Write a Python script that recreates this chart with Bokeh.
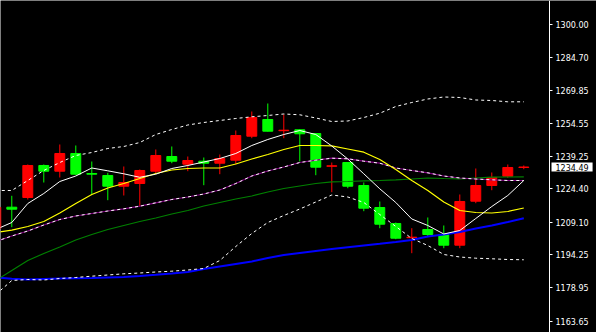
from bokeh.plotting import figure
from bokeh.models import Range1d, FixedTicker, PrintfTickFormatter, Label, ColumnDataSource
from bokeh.embed import file_html
from bokeh.resources import INLINE

# ---- candle data (oldest -> newest) ----
opens = [1206.24, 1216.03, 1220.49, 1235.20, 1232.58, 1240.71, 1231.52, 1230.60, 1225.68, 1226.92,
         1232.58, 1239.33, 1235.79, 1237.17, 1236.25, 1237.63, 1248.66, 1256.34, 1251.19, 1251.60,
         1249.90, 1234.83, 1236.57, 1226.00, 1215.89, 1208.54, 1202.01, 1205.78, 1203.35, 1198.57,
         1218.79, 1226.00, 1230.28, 1234.30]
highs = [1217.27, 1221.27, 1235.66, 1235.66, 1244.85, 1244.39, 1237.03, 1231.84, 1234.74, 1233.36,
         1242.55, 1243.93, 1239.33, 1238.87, 1240.25, 1251.28, 1260.01, 1263.69, 1258.64, 1251.80,
         1250.10, 1236.57, 1236.70, 1227.38, 1218.65, 1209.00, 1206.38, 1211.30, 1207.62, 1221.87,
         1233.82, 1231.98, 1235.66, 1235.20]
lows = [1205.50, 1206.84, 1219.57, 1227.38, 1229.68, 1230.90, 1221.87, 1219.25, 1221.41, 1216.35,
        1231.66, 1236.25, 1232.58, 1226.14, 1231.20, 1235.79, 1247.74, 1250.80, 1247.74, 1237.03,
        1230.74, 1222.93, 1224.76, 1214.19, 1206.38, 1201.32, 1194.89, 1202.24, 1197.19, 1197.19,
        1217.87, 1223.84, 1229.54, 1233.49]
closes = [1216.03, 1215.11, 1235.20, 1232.58, 1240.71, 1231.20, 1231.20, 1225.68, 1227.38, 1232.90,
          1239.79, 1237.17, 1237.49, 1236.25, 1238.41, 1248.98, 1257.26, 1250.96, 1251.42, 1249.77,
          1234.42, 1235.06, 1225.68, 1215.57, 1208.22, 1201.78, 1202.24, 1203.48, 1198.57, 1218.65,
          1226.00, 1229.68, 1234.28, 1234.49]

# ---- indicator lines ----
ma_fast = [1205.78, 1209.00, 1217.73, 1222.33, 1227.84, 1230.37, 1234.05, 1232.76, 1231.38, 1229.77,
           1231.20, 1233.82, 1235.20, 1236.80, 1238.41, 1240.71, 1244.39, 1247.15, 1249.44, 1251.28,
           1249.44, 1244.16, 1238.18, 1231.38, 1224.49, 1218.19, 1210.61, 1207.62, 1203.71, 1205.32,
           1210.84, 1216.35, 1221.41, 1228.30]
ma_yellow = [1204.40, 1205.46, 1207.16, 1209.46, 1213.36, 1217.73, 1221.87, 1224.85, 1226.92, 1229.22,
             1231.52, 1233.13, 1233.82, 1234.05, 1234.05, 1235.89, 1238.18, 1240.25, 1242.55, 1244.39,
             1244.39, 1244.25, 1242.78, 1241.31, 1237.95, 1233.36, 1228.30, 1223.71, 1218.42, 1214.51,
             1213.59, 1213.36, 1214.05, 1215.66]
bb_mid = [1200.27, 1202.79, 1205.09, 1207.85, 1210.38, 1211.99, 1213.14, 1214.28, 1215.30, 1216.49,
          1218.05, 1219.57, 1220.72, 1222.10, 1223.94, 1226.92, 1230.37, 1232.67, 1234.51, 1236.57,
          1237.63, 1238.55, 1238.28, 1237.17, 1236.25, 1234.05, 1232.90, 1231.84, 1230.37, 1229.45,
          1228.99, 1228.62, 1228.30, 1228.30]
bb_upper = [1223.71, 1223.71, 1228.30, 1232.90, 1236.57, 1239.79, 1241.17, 1243.01, 1243.93, 1245.77,
            1249.44, 1251.74, 1253.81, 1254.96, 1255.88, 1256.80, 1257.58, 1258.18, 1258.87, 1258.50,
            1257.03, 1255.42, 1255.65, 1257.26, 1259.23, 1262.31, 1264.15, 1265.76, 1266.68, 1266.45,
            1265.30, 1265.07, 1264.47, 1264.47]
bb_lower = [1175.91, 1182.34, 1182.80, 1182.57, 1183.26, 1183.72, 1184.32, 1184.87, 1185.42, 1185.79,
            1186.25, 1186.62, 1187.17, 1187.86, 1191.53, 1197.97, 1203.94, 1209.00, 1212.22, 1215.20,
            1218.42, 1221.64, 1220.72, 1218.19, 1212.68, 1207.16, 1201.65, 1198.43, 1194.29, 1193.14,
            1192.59, 1192.32, 1191.99, 1191.86]
ma_green = [1182.34, 1186.94, 1191.53, 1194.75, 1197.74, 1200.96, 1203.48, 1205.78, 1207.62, 1209.46,
            1211.07, 1212.91, 1214.51, 1216.58, 1218.19, 1219.80, 1221.18, 1223.02, 1224.63, 1225.77,
            1226.92, 1227.70, 1227.84, 1228.16, 1228.30, 1228.62, 1228.99, 1229.45, 1229.22, 1229.08,
            1229.45, 1229.82, 1229.91, 1230.00]
ma_blue = [1183.72, 1183.12, 1182.80, 1183.03, 1183.26, 1183.40, 1183.49, 1183.72, 1183.95, 1184.41,
           1184.96, 1185.56, 1186.25, 1187.63, 1188.78, 1189.93, 1191.07, 1192.68, 1194.06, 1194.98,
           1195.90, 1196.82, 1197.65, 1198.43, 1199.21, 1200.04, 1200.96, 1202.56, 1203.48, 1204.63,
           1206.24, 1207.62, 1209.23, 1210.98]

price_ticks = [1163.65, 1178.95, 1194.25, 1209.10, 1224.40, 1239.25, 1254.55, 1269.85, 1284.70, 1300.00]
last_price = 1234.49

idx = list(range(len(opens)))
up = [c >= o for o, c in zip(opens, closes)]
colors = ["#ff0000" if u else "#00ff00" for u in up]
src = ColumnDataSource(dict(
    x=idx, o=opens, h=highs, l=lows, c=closes,
    top=[max(o, c) for o, c in zip(opens, closes)],
    bot=[min(o, c) for o, c in zip(opens, closes)],
    col=colors,
))

# frame spans the full canvas; 16 px per bar
X0 = 0.294
X1 = X0 + 596 / 16
AXIS_X = X0 + 549 / 16
p = figure(width=596, height=332,
           x_range=Range1d(X0, X1), y_range=Range1d(1158.44, 1311.03),
           output_backend="svg", toolbar_location=None,
           x_axis_location=None, y_axis_location="right",
           min_border=0,
           background_fill_color="black", border_fill_color="black",
           outline_line_color=None)
p.grid.visible = False

ax = p.yaxis[0]
ax.fixed_location = AXIS_X
ax.ticker = FixedTicker(ticks=price_ticks)
ax.formatter = PrintfTickFormatter(format="%.2f")
ax.axis_line_color = "white"
ax.major_tick_line_color = "white"
ax.major_tick_out = 3
ax.major_tick_in = 0
ax.minor_tick_line_color = None
ax.major_label_text_color = "white"
ax.major_label_text_font = "DejaVu Sans"
ax.major_label_text_font_size = "8px"
ax.major_label_standoff = 3

# candles
p.segment(x0="x", y0="l", x1="x", y1="h", color="col", line_width=1, source=src)
p.vbar(x="x", width=0.62, top="top", bottom="bot", fill_color="col", line_color="col",
       line_width=1, source=src)

# indicators
p.line(idx, ma_blue, color="#0000ff", line_width=2)
p.line(idx, ma_green, color="#008000", line_width=1.2)
p.line(idx, bb_mid, color="#800080", line_width=1.2)
p.line(idx, bb_mid, color="white", line_width=1, line_dash="3 3")
p.line(idx, bb_upper, color="white", line_width=1, line_dash="3 3")
p.line(idx, bb_lower, color="white", line_width=1, line_dash="3 3")
p.line(idx, ma_yellow, color="#ffff00", line_width=1.2)
p.line(idx, ma_fast, color="white", line_width=1)

lbl = Label(x=X0 + 551 / 16, y=last_price, x_units="data", y_units="data",
            text=f"{last_price:.2f}",
            text_color="black", text_font="DejaVu Sans", text_font_size="8px",
            text_baseline="middle", text_align="left",
            background_fill_color="white", padding=dict(x=4, y=1))
p.add_layout(lbl)

open("out.html", "w").write(file_html(p, INLINE))
